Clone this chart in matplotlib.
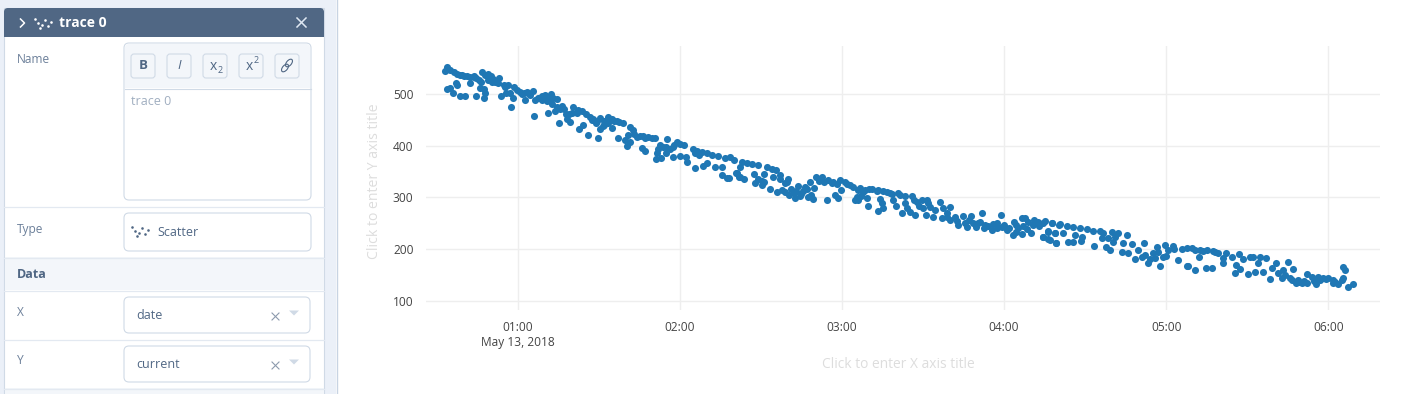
import matplotlib
matplotlib.use('Agg')
import matplotlib.pyplot as plt
import matplotlib.patches as patches

plt.rcParams['font.family'] = ['Open Sans', 'DejaVu Sans']

# minutes after midnight
minutes = [33.2, 34.0, 35.0, 36.3, 37.5, 38.7, 40.0, 41.2, 42.4, 43.7, 44.6, 45.6, 46.4, 46.7, 49.0, 50.2, 53.2, 49.2, 50.4, 51.7,
           52.9, 54.8, 56.6, 58.8, 59.7, 60.9, 62.2, 63.6, 65.6, 64.0, 66.5, 67.7, 68.9, 70.2, 72.3, 70.8, 74.6, 72.9, 74.5, 76.3,
           77.2, 73.9, 77.8, 80.0, 80.6, 81.9, 83.9, 85.2, 86.8, 88.0, 88.9, 90.6, 93.6, 94.8, 96.7, 98.9, 101.4, 102.8, 100.7, 104.1,
           105.3, 106.5, 108.4, 109.6, 110.9, 115.2, 119.1, 121.7, 117.6, 116.4, 114.9, 112.7, 113.9, 124.8, 126.3, 128.1, 130.0, 131.8, 134.0, 136.7,
           138.6, 140.1,
           33.8, 34.8, 36.1, 37.2, 37.7, 38.7, 40.7, 42.2, 44.6, 45.9, 47.4, 47.7, 48.1, 53.8, 55.7, 57.2, 58.2, 57.7, 62.8, 66.2,
           71.3, 75.2, 78.2, 79.2, 82.7, 84.3, 86.2, 89.7, 90.3, 91.5, 94.8, 97.2, 99.6, 100.3, 101.6, 105.9, 107.2, 111.2, 113.2, 111.7,
           117.6, 120.1, 122.3, 122.6, 125.6, 128.7, 130.0, 133.1, 135.5, 135.8, 137.4, 138.4, 140.7, 142.0, 142.3,
           142.9, 144.8, 146.6, 149.1, 152.2, 154.0, 155.6, 157.1, 160.2, 159.6, 159.0, 157.1, 154.6, 151.2, 147.3, 142.3, 143.6, 141.1,
           147.9, 150.3, 149.1, 150.3, 151.2, 153.4, 156.1, 157.7, 159.0, 161.1, 162.7, 164.5, 162.3, 163.9, 165.5, 167.2, 168.2, 169.7, 167.6, 169.2,
           170.4, 172.5, 171.7, 173.4, 175.0, 176.8, 178.1, 176.2, 174.4, 177.5, 178.7, 179.7, 179.3, 181.2, 183.0, 184.2, 185.5, 184.9, 186.7, 187.9,
           189.2, 189.8, 188.6, 191.0, 192.9, 195.3, 197.8, 194.1, 194.7, 195.3, 193.2, 199.0, 199.9, 200.9, 203.4, 205.8, 202.1, 203.4, 205.2, 207.1,
           207.7, 209.5, 210.1, 211.4, 211.0, 212.6, 213.8, 216.3, 216.9, 218.8, 220.0, 220.0, 221.8, 223.1, 224.9, 226.2, 227.6, 228.6, 230.5, 231.7,
           233.0, 235.4, 238.7, 237.3, 241.0, 239.1, 243.4, 243.8, 246.5, 245.3, 246.5, 247.7, 249.8, 250.8, 252.7, 255.1, 257.6, 254.3, 256.4, 256.4,
           259.2, 258.8, 260.3,
           254.5, 257.6, 260.7, 263.2, 265.6, 268.1, 270.6, 273.0, 275.5, 276.7, 279.8, 282.3, 285.6, 281.0, 280.2, 278.6, 276.1, 268.7, 266.2, 261.9,
           258.8, 256.4, 254.5, 257.0, 259.2, 263.8, 265.4, 268.3, 273.3, 277.7, 279.2, 283.5, 284.1, 287.2, 289.7, 291.8, 286.0, 288.4, 290.9, 293.4,
           295.2, 296.5, 295.8, 297.7, 299.5, 298.9, 300.8, 302.4, 304.2, 305.7, 307.6, 309.4, 307.6, 308.2, 310.6, 312.5, 312.2, 314.7, 316.8, 315.0,
           317.4, 319.3, 320.9, 321.1, 322.3, 324.2, 325.4, 326.9, 326.0, 327.3, 328.5, 330.4, 331.0, 332.2, 332.8, 334.1, 334.7, 335.9, 337.1, 338.4,
           339.0, 340.8, 341.5, 342.7, 343.3, 345.2, 345.8, 347.0, 347.9, 348.9, 350.1, 352.0, 352.0, 353.8, 355.4, 356.3, 358.1, 360.0, 361.8, 363.6,
           364.9, 365.3, 366.1, 367.4, 369.2, 361.8]
current = [545.6, 552.8, 547.6, 543, 540, 538.5, 536, 535, 533, 536, 531, 528, 524, 544.5, 540, 536, 532, 528, 524, 525,
           522, 518.5, 518.5, 515, 509, 505.5, 502, 505.5, 506, 502, 489, 492.6, 496, 498, 501, 488, 491, 481, 476.4, 477.7,
           471, 468, 461.5, 463.5, 475, 464.8, 468.6, 462, 457, 452.5, 445.4, 453.8, 457, 452.5, 449, 445.4, 437.6, 431, 421.4, 417,
           419.5, 419.5, 417, 416, 415, 413, 408.5, 402.7, 398.8, 395, 386, 402, 398.8, 393.6, 391, 389, 386, 382.6, 380.7, 376,
           378, 373,
           510.7, 513, 502, 521.7, 518.5, 496.5, 496.5, 521.7, 497, 512, 510.7, 492.6, 502, 496.5, 503.6, 502, 492.6, 475, 489, 459,
           463.5, 444, 452.5, 447, 432.4, 440.8, 421.4, 415.6, 433, 439, 434.4, 415.6, 411.7, 400, 408.5, 395.5, 390.4, 374, 376, 386,
           378.7, 380.7, 378, 368.4, 356.7, 360.6, 367.7, 360, 360, 343.8, 338, 338.6, 347, 340, 360,
           368.3, 366.3, 364.4, 363, 358.6, 354.7, 353.4, 343.7, 335.3, 330.7, 327.5, 335.3, 339, 345.6, 345.6, 340.4, 335.3, 347,
           327.5, 332.7, 335.3, 324.3, 330.7, 315.9, 310, 314.6, 311.3, 315.9, 299.7, 303.6, 308, 322.3, 313.3, 315.9, 329.4, 317.8, 300.3, 296.4,
           340.4, 340.4, 332.7, 330.7, 334, 330.7, 325.6, 327.5, 295.2, 304.9, 298.4, 314.6, 334, 329.4, 324.3, 319.7, 301.6, 295.2, 317.8, 311.3,
           298.4, 283.5, 314.6, 315.9, 313.3, 313.3, 309.4, 297, 288.7, 279, 273.8, 295.2, 283.5, 308, 303.6, 303.6, 269.3, 288.7, 272.5, 266,
           291.9, 295.2, 279, 295.2, 266, 282.2, 262.8, 291.9, 259.6, 269.3, 282.2, 256.3, 262.8, 246.6, 264.7, 243.4, 264.7, 249.9, 249.9, 269.3,
           246.6, 236.9, 266, 249.9, 236.9, 243.4, 227.2, 253.1, 228.5, 240.2, 259.6, 259.6, 230.4, 246.6, 253.1, 254.4, 251.2, 224, 218.8, 235.6,
           211, 230.4, 246.6,
           251, 251, 247.9, 244.6, 243.3, 241.4, 238.2, 235.6, 234.9, 230.4, 232.3, 230.4, 226.5, 223.9, 214.2, 220.7, 222, 222.6, 227.2, 230.4,
           230.4, 233.6, 223.9, 217.5, 211, 212.9, 214.2, 216.2, 206.5, 203.2, 198, 194.8, 211, 209.7, 198, 211, 191.6, 180, 183.8, 172.2,
           191.6, 204.5, 181.9, 167, 207.8, 185.1, 198, 205.8, 178.6, 199.3, 201.3, 201.3, 167, 167.6, 159.2, 198, 185.1, 162.5, 162.5, 198,
           196.1, 192.9, 181.9, 173.5, 192.9, 185.1, 154.1, 190.3, 168.9, 161.2, 179.9, 151.5, 185.1, 183.8, 156, 172.2, 185.1, 156, 181.9, 141.1,
           162.5, 172.2, 152.8, 143.1, 159.2, 175.4, 143.1, 160.5, 134.6, 139.8, 133.3, 151.5, 134.6, 145, 131.4, 146.3, 143.1, 143.1, 133.3, 132.1,
           139.8, 164.4, 159.2, 126.9, 131.4, 139.8]
# points inside the dense stretches of the band
minutes_dense = [222.5, 225.5, 227, 229.5, 231, 232.5, 234, 236, 237.5, 240, 242, 244.5, 247, 249, 251, 253, 248.5, 244.5,
                 163, 165, 166.5, 160.5, 168.5,
                 182, 186, 190, 193.5, 196.5, 198.5, 201.5, 186, 187,
                 204, 206.5, 208.5, 212, 214.5, 217.5, 219,
                 39.5, 44, 48, 51, 55.5, 61.5, 64.5,
                 69, 71.5, 73, 75.5, 79, 82.5,
                 87.5, 89.5, 92, 95.5, 97.5, 92, 93.5,
                 103, 107, 112, 115, 118, 120, 125.5, 127,
                 303, 310.5, 313.5, 318, 300, 294, 297, 292,
                 346.5, 349, 351, 354.5, 357, 359, 362.5, 365.5, 344]
current_dense = [255, 250, 256, 243, 252, 240, 244, 248, 240, 246, 240, 246, 244, 252, 256, 245, 238, 233,
                 312, 307, 321, 305, 305,
                 327, 314, 316, 314, 311, 307, 305, 296, 302,
                 280, 296, 284, 289, 275, 279, 263,
                 537, 533, 538, 530, 515, 500, 498,
                 490, 492, 494, 472, 462, 470,
                 450, 449, 449, 449, 446, 441, 444,
                 424, 416, 395, 397, 402, 404, 386, 383,
                 200, 199, 197, 194, 186, 180, 195, 188,
                 140, 136, 137, 138, 140, 141, 135, 143, 150]
x_ticks = [60, 120, 180, 240, 300, 360]
x_labels = ['01:00\nMay 13, 2018', '02:00', '03:00', '04:00', '05:00', '06:00']
y_ticks = [100, 200, 300, 400, 500]

W, H = 1410, 394
TXT = '#506784'
MUTED = '#a0aec0'
LINE = '#d0dae6'
LIGHT = '#f3f6fa'

fig = plt.figure(figsize=(W / 100, H / 100), dpi=100, facecolor='white')

# Editor panel, drawn in pixel coordinates
ui = fig.add_axes([0, 0, 1, 1])
ui.set_xlim(0, W)
ui.set_ylim(H, 0)
ui.axis('off')


def rect(x0, y0, x1, y1, fc, ec='none', r=0, lw=0.8, z=1):
    if r:
        p = patches.FancyBboxPatch((x0 + r, y0 + r), x1 - x0 - 2 * r, y1 - y0 - 2 * r,
                                   boxstyle=f'round,pad={r},rounding_size={r}', fc=fc, ec=ec, lw=lw, zorder=z)
    else:
        p = patches.Rectangle((x0, y0), x1 - x0, y1 - y0, fc=fc, ec=ec, lw=lw, zorder=z)
    ui.add_patch(p)


def label(x, y, s, size=9, color=TXT, **kw):
    ui.text(x, y, s, fontsize=size, color=color, va='center', ha=kw.pop('ha', 'left'), zorder=5, **kw)


def dots(cx, cy, color):
    ui.scatter([cx - 9, cx - 6, cx - 2, cx - 4, cx + 1, cx + 4, cx + 7],
               [cy - 4, cy + 0, cy + 2, cy + 5, cy - 3, cy + 3, cy - 1], s=3.5, color=color, lw=0, zorder=5)


rect(0, 0, 336, H, '#ebf0f8')
ui.plot([336.5, 336.5], [0, H], color='#c8d4e3', lw=1, zorder=2)
rect(4, 8, 324, H + 8, 'white', ec=LINE, lw=0.8)
rect(4, 8, 324, 37, TXT, r=4, z=2)
rect(4, 20, 324, 37, TXT, z=2)

ui.plot([20.5, 24.5, 20.5], [19, 23, 27], color='white', lw=1.1, zorder=5)
dots(44, 22.5, 'white')
label(59, 23, 'trace 0', size=10, color='white', weight='bold')
ui.plot([297, 306], [18, 27], color='#dfe8f3', lw=1.1, zorder=5)
ui.plot([297, 306], [27, 18], color='#dfe8f3', lw=1.1, zorder=5)

label(17, 59, 'Name', size=8.6, color='#6b7f99')
rect(124, 43, 311, 200, 'white', ec=LINE, r=5)
rect(125, 44, 310, 88, LIGHT, r=4, z=2)
rect(125, 70, 310, 88, LIGHT, z=2)
ui.plot([124.5, 310.5], [88.5, 88.5], color=LINE, lw=0.8, zorder=3)
for bx in [131, 167, 203, 239, 275]:
    rect(bx, 54, bx + 24, 78, LIGHT, ec=LINE, r=3, z=3)
label(143, 65, 'B', size=9.5, ha='center', weight='bold')
label(179, 65, 'I', size=9.5, ha='center', style='italic')
label(213, 66, 'x', size=10, ha='center')
label(220, 70, '2', size=6.5, ha='center')
label(249, 66, 'x', size=10, ha='center')
label(256, 60, '2', size=6.5, ha='center')
for lx, ly in [(285, 68), (289, 63)]:
    ui.add_patch(patches.Ellipse((lx, ly), 9, 5, angle=-50, fc='none', ec=TXT, lw=0.8, zorder=5))
label(131, 101, 'trace 0', size=9, color=MUTED)

ui.plot([4, 324], [206.5, 206.5], color='#e3e9f1', lw=0.9, zorder=2)
label(17, 229, 'Type', size=8.6, color='#6b7f99')
rect(124, 213, 311, 251, 'white', ec=LINE, r=5)
dots(141, 231, TXT)
label(157, 232, 'Scatter', size=9)

rect(5, 257, 323.5, 290, LIGHT, z=2)
ui.plot([4, 324], [257.5, 257.5], color='#e3e9f1', lw=0.9, zorder=3)
ui.plot([4, 324], [290.5, 290.5], color='#e3e9f1', lw=0.9, zorder=3)
label(17, 274, 'Data', size=9, weight='bold')

for ly, name, val, y0, y1 in [(313, 'X', 'date', 297, 333), (361, 'Y', 'current', 346, 382)]:
    label(17, ly, name, size=8.6, color='#6b7f99')
    rect(124, y0, 310, y1, 'white', ec=LINE, r=5)
    cy = (y0 + y1) / 2
    label(136, cy + 0.5, val, size=9)
    ui.plot([272, 279], [cy - 2, cy + 5], color='#8c9aad', lw=0.8, zorder=5)
    ui.plot([272, 279], [cy + 5, cy - 2], color='#8c9aad', lw=0.8, zorder=5)
    ui.add_patch(patches.Polygon([[289, cy - 4.5], [299, cy - 4.5], [294, cy + 0.5]], fc=LINE, ec='none', zorder=5))
ui.plot([4, 324], [339.5, 339.5], color='#e3e9f1', lw=0.9, zorder=2)
rect(5, 388, 323.5, H, LIGHT, z=2)
ui.plot([4, 324], [388.5, 388.5], color='#e3e9f1', lw=0.9, zorder=3)

# Scatter plot
ax = fig.add_axes([426 / W, 1 - 310 / H, (1380 - 426) / W, (310 - 46) / H])
ax.patch.set_alpha(0)
ax.scatter(minutes + minutes_dense, current + current_dense, s=26, color='#1f77b4', linewidths=0, zorder=3, clip_on=False)
ax.set_xlim(26.1, 379.1)
ax.set_ylim(81.6, 594)
ax.set_xticks(x_ticks)
ax.set_xticklabels(x_labels, fontsize=8.6, color='#444444', linespacing=1.15)
ax.set_yticks(y_ticks)
ax.set_yticklabels([str(v) for v in y_ticks], fontsize=8.6, color='#444444')
ax.tick_params(length=0, pad=8)
ax.tick_params(axis='y', pad=9)
ax.grid(True, color='#eeeeee', lw=1)
ax.set_axisbelow(True)
for spine in ax.spines.values():
    spine.set_visible(False)

fig.text(898 / W, 1 - 364 / H, 'Click to enter X axis title', fontsize=9.9, color='#dddddd', ha='center', va='center')
fig.text(375 / W, 1 - 181 / H, 'Click to enter Y axis title', fontsize=10.1, color='#dddddd', ha='center', va='center', rotation=90)

fig.savefig('out.png', dpi=100)
